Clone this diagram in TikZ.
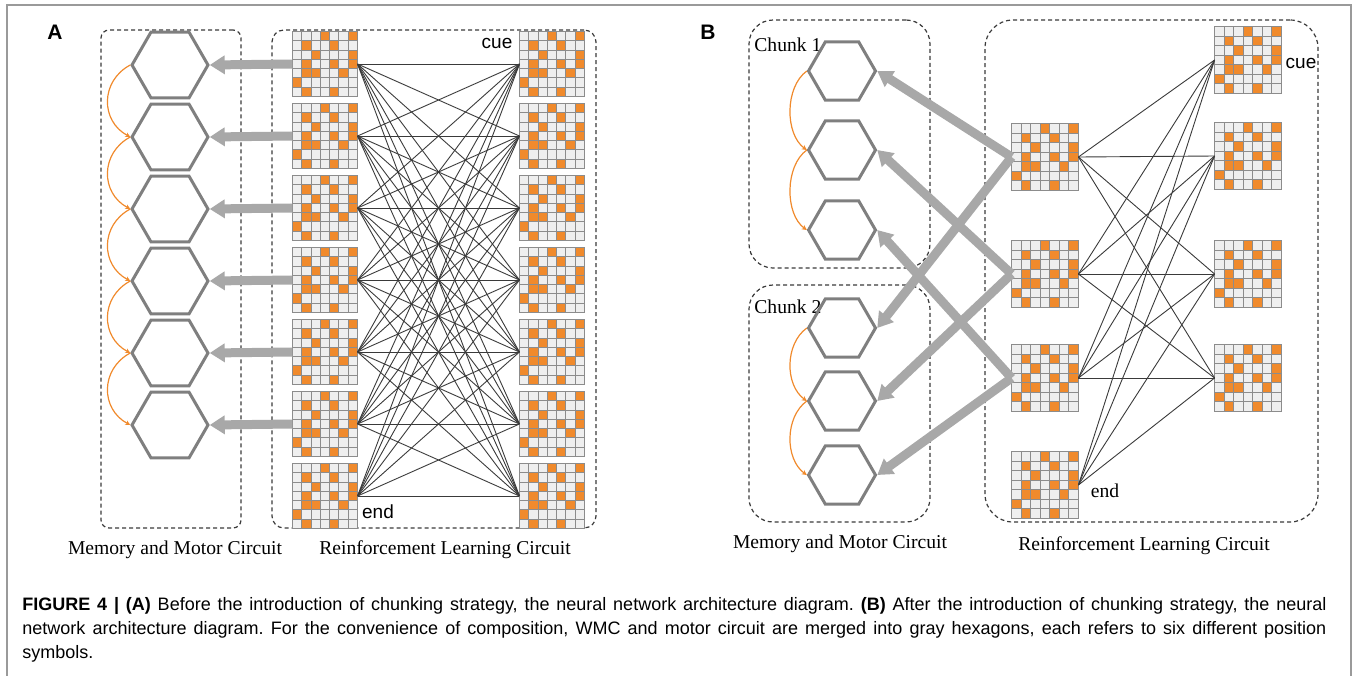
\documentclass[tikz,border=0pt]{standalone}
\usepackage{fontspec}
\setmainfont{Liberation Serif}
\setsansfont{Liberation Sans}
\usetikzlibrary{positioning,arrows.meta,shapes.geometric,calc}
\definecolor{figNaranja}{HTML}{F08A2C}
\definecolor{figCelda}{HTML}{EFEFEF}
\definecolor{figLinea}{HTML}{8C8C8C}
\definecolor{figHex}{HTML}{7F7F7F}
\definecolor{figFlecha}{HTML}{A8A8A8}
\definecolor{figRed}{HTML}{3A3A3A}
\definecolor{figMarco}{HTML}{9A9A9A}
\newcommand{\patronCeldas}{4/1,7/1,2/2,5/2,3/3,7/3,2/4,5/4,7/4,2/5,3/5,6/5,1/6,2/7,5/7}
\tikzset{
  matriz/.style={rectangle, inner sep=0pt, outer sep=0pt, minimum size={3.5pt*#1},
    fill=figCelda, draw=figLinea, line width=0.5pt,
    path picture={
      \foreach \col/\fil in \patronCeldas
        \fill[figNaranja] ($(path picture bounding box.north west)+(#1*\col-#1,#1*\fil-#1)$) rectangle ++(#1,#1);
      \foreach \k in {1,...,6} {
        \draw[figLinea, line width=0.5pt] ($(path picture bounding box.north west)+(#1*\k,0)$) -- ++(0,7*#1);
        \draw[figLinea, line width=0.5pt] ($(path picture bounding box.north west)+(0,#1*\k)$) -- ++(7*#1,0);
      }
    }},
  matriz/.default=9.3,
  hexA/.style={regular polygon, regular polygon sides=6, minimum size=38pt,
    inner sep=0pt, draw=figHex, line width=1.5pt},
  hexB/.style={hexA, minimum size=33.5pt},
  caja/.style={rectangle, draw=figRed, dash pattern=on 2pt off 1.5pt,
    line width=0.6pt, inner sep=0pt},
  flechaGruesa/.style={figFlecha, line width=4.5pt, -{Triangle[length=7.5pt,width=9pt]}},
  arcoNaranja/.style={figNaranja, line width=0.6pt, -{Stealth[length=2.5pt,width=2.5pt]}},
  conexion/.style={figRed, line width=0.45pt},
  rotulo/.style={font=\fontsize{9.8}{11}\selectfont, inner sep=0pt},
  marcaSans/.style={font=\sffamily\fontsize{9.5}{11}\selectfont, inner sep=0pt},
  letraPanel/.style={font=\sffamily\bfseries\fontsize{10.5}{12}\selectfont, inner sep=0pt},
  leyenda/.style={font=\sffamily\fontsize{9}{12}\selectfont, text width=652pt,
    align=justify, inner sep=0pt},
}

\begin{document}
\frenchspacing
\begin{tikzpicture}[x=0.5pt, y=-0.5pt]
  \useasboundingbox (0,0) rectangle (1358,675);
  \draw[figMarco, line width=0.6pt] (7,690) -- (7,5) -- (1351,5) -- (1351,690);

  % panel A
  \node[letraPanel] (letraA) at (55,32) {A};
  \node[caja, rounded corners=4pt, minimum width=70pt, minimum height=249pt] (cajaMemA) at (171,279) {};
  \node[caja, rounded corners=6pt, minimum width=162pt, minimum height=249pt] (cajaAprA) at (434,279) {};
  \foreach \i in {1,...,6}
    \node[hexA] (hexA\i) at (170,{65+72*(\i-1)}) {};
  \foreach \i in {1,...,7} {
    \node[matriz] (izqA\i) at (325,{64+72*(\i-1)}) {};
    \node[matriz] (derA\i) at (552,{64+72*(\i-1)}) {};
  }
  \foreach \i in {1,...,7}
    \foreach \j in {1,...,7}
      \draw[conexion] (izqA\i.east) -- (derA\j.west);
  \foreach \i in {1,...,6}
    \draw[flechaGruesa] (izqA\i.west) -- (hexA\i.east);
  \foreach \i/\j in {1/2,2/3,3/4,4/5,5/6}
    \draw[arcoNaranja] (hexA\i.west) .. controls +(-30,16) and +(-30,-16) .. (hexA\j.west);
  \node[marcaSans] (cueA) at (497,43) {cue};
  \node[marcaSans] (endA) at (378,512) {end};
  \node[rotulo] (memA) at (175,550) {Memory and Motor Circuit};
  \node[rotulo] (aprA) at (445,550) {Reinforcement Learning Circuit};

  % panel B
  \node[letraPanel] (letraB) at (708,32) {B};
  \node[caja, rounded corners=12pt, minimum width=90.5pt, minimum height=124pt] (cajaChunk1) at (839.5,144) {};
  \node[caja, rounded corners=12pt, minimum width=90.5pt, minimum height=118.5pt] (cajaChunk2) at (839.5,403.5) {};
  \node[caja, rounded corners=14pt, minimum width=166.5pt, minimum height=251pt] (cajaAprB) at (1151.5,271) {};
  \node[rotulo, anchor=west] (chunk1) at (754,45) {Chunk 1};
  \node[rotulo, anchor=west] (chunk2) at (754,307) {Chunk 2};
  \foreach \i/\y in {1/71,2/150,3/230,4/328,5/401,6/475}
    \node[hexB] (hexB\i) at (842,\y) {};
  \foreach \i/\y in {1/157,2/274,3/378,4/485}
    \node[matriz=9.55] (medB\i) at (1045,\y) {};
  \foreach \i/\y in {1/60,2/156,3/274,4/378}
    \node[matriz=9.55] (derB\i) at (1248,\y) {};
  \foreach \i in {1,...,4}
    \foreach \j in {1,...,4}
      \draw[conexion] (medB\i.east) -- (derB\j.west);
  \foreach \i/\a/\b in {1/1/4,2/2/5,3/3/6} {
    \draw[flechaGruesa] (medB\i.west) -- (hexB\a.east);
    \draw[flechaGruesa] (medB\i.west) -- (hexB\b.east);
  }
  \foreach \i/\j in {1/2,2/3,4/5,5/6}
    \draw[arcoNaranja] (hexB\i.west) .. controls +(-22,16) and +(-22,-16) .. (hexB\j.west);
  \node[marcaSans] (cueB) at (1301,63) {cue};
  \node[rotulo] (endB) at (1105,491) {end};
  \node[rotulo] (memB) at (840,544) {Memory and Motor Circuit};
  \node[rotulo] (aprB) at (1144,546) {Reinforcement Learning Circuit};

  % caption
  \node[leyenda, anchor=north west] (pie) at (22,597) {{\bfseries FIGURE 4 | (A)} Before the introduction of chunking strategy, the neural network architecture diagram. {\bfseries (B)} After the introduction of chunking strategy, the neural\linebreak network architecture diagram. For the convenience of composition, WMC and motor circuit are merged into gray hexagons, each refers to six different position\linebreak symbols.};
\end{tikzpicture}
\end{document}
